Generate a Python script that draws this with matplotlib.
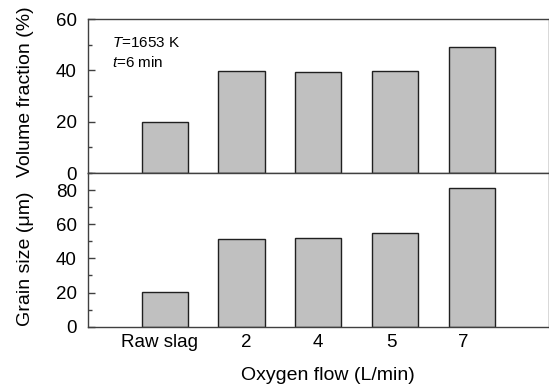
import matplotlib
matplotlib.use("Agg")
import matplotlib.pyplot as plt
from matplotlib.ticker import MultipleLocator

plt.rcParams['font.family'] = ['Liberation Sans', 'DejaVu Sans']
plt.rcParams['mathtext.fontset'] = 'custom'
plt.rcParams['mathtext.rm'] = 'Liberation Sans'
plt.rcParams['mathtext.it'] = 'Liberation Sans:italic'

categories = ["Raw slag", "2", "4", "5", "7"]
volume_fraction = [20.0, 39.7, 39.5, 39.6, 49.0]
grain_size = [20.1, 51.2, 51.7, 54.7, 81.4]

fig = plt.figure(figsize=(5.49, 3.86), dpi=100)
W, H = 549, 386
left = 88 / W
right = 548.5 / W
top_y0 = 19 / H
mid_y = 173 / H
bot_y = 326.7 / H

ax1 = fig.add_axes([left, 1 - mid_y, right - left, mid_y - top_y0])
ax2 = fig.add_axes([left, 1 - bot_y, right - left, bot_y - mid_y])

x = list(range(len(categories)))
# small horizontal offsets of the category labels as placed in the original
label_shift = [-0.065, 0.06, 0.0, -0.043, -0.117]
spine_c = '#404040'
for ax, vals, ylim in [(ax1, volume_fraction, (0, 60)), (ax2, grain_size, (0, 90))]:
    ax.bar(x, vals, width=0.6, color='#c0c0c0', edgecolor='#202020', linewidth=1.0)
    ax.set_xlim(-1, 5)
    ax.set_ylim(*ylim)
    ax.yaxis.set_major_locator(MultipleLocator(20))
    ax.yaxis.set_minor_locator(MultipleLocator(10))
    ax.tick_params(axis='y', which='major', direction='in', length=5, width=1,
                   labelsize=13.5, color=spine_c, pad=8)
    ax.tick_params(axis='y', which='minor', direction='in', length=3, width=1, color=spine_c)
    ax.tick_params(axis='x', length=0, labelsize=13.5, pad=5)
    for s in ax.spines.values():
        s.set_color(spine_c)
        s.set_linewidth(1.0)

ax1.set_xticks(x)
ax1.set_xticklabels([])
ax1.set_yticks([0, 20, 40, 60])
ax2.set_yticks([0, 20, 40, 60, 80])
ax2.set_xticks([xi + d for xi, d in zip(x, label_shift)])
ax2.set_xticklabels(categories)

ax1.set_ylabel("Volume fraction (%)", fontsize=14)
ax2.set_ylabel("Grain size (\u03bcm)", fontsize=14)
ax1.yaxis.set_label_coords(-0.117, 0.526)
ax2.yaxis.set_label_coords(-0.117, 0.44)
ax2.set_xlabel("Oxygen flow (L/min)", fontsize=14, labelpad=12)
ax2.xaxis.set_label_coords(0.521, -0.26)

ax1.text(0.052, 0.815, "$T$=1653 K", transform=ax1.transAxes, fontsize=11)
ax1.text(0.052, 0.69, "$t$=6 min", transform=ax1.transAxes, fontsize=11)

fig.savefig("out.png", dpi=100)
